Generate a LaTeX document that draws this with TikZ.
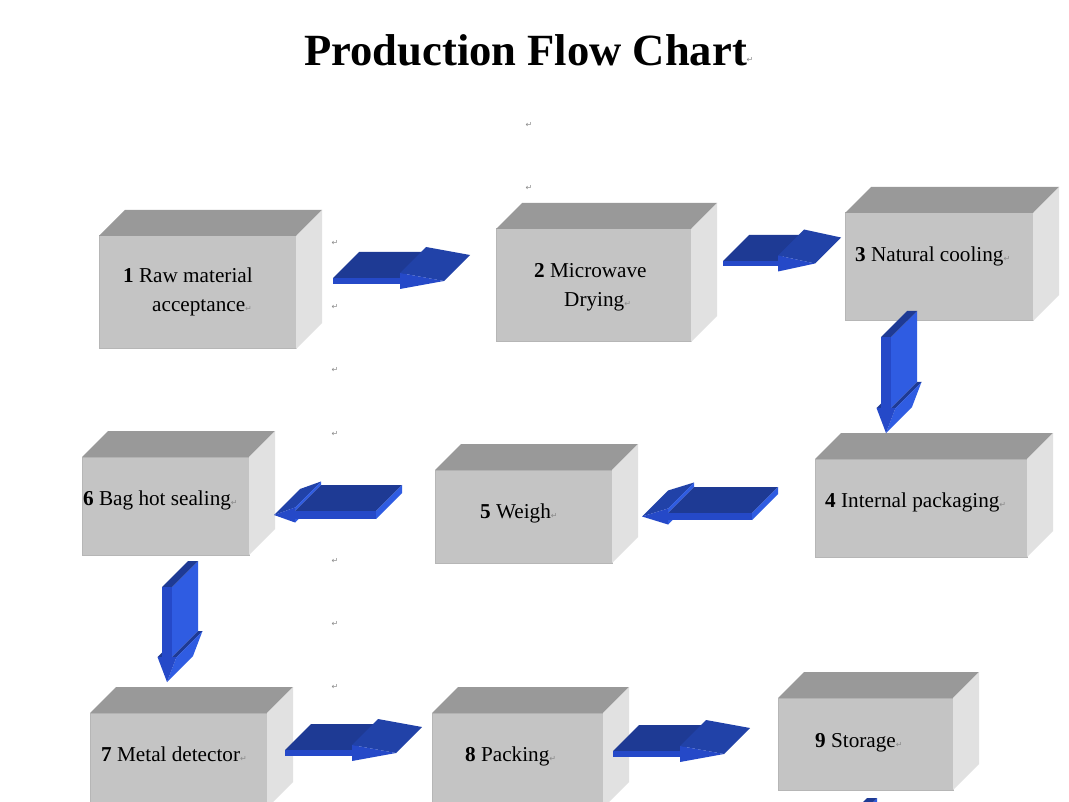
\documentclass[tikz,border=0pt]{standalone}
\usepackage{fontspec}
\setmainfont{Liberation Serif}
\newfontfamily\symfont{DejaVu Sans}
\usetikzlibrary{calc}
\definecolor{frontgray}{HTML}{C4C4C4}
\definecolor{topgray}{HTML}{999999}
\definecolor{sidegray}{HTML}{E1E1E1}
\definecolor{edgegray}{HTML}{B6B6B6}
\definecolor{adark}{HTML}{1E3A94}
\definecolor{ahead}{HTML}{2142A8}
\definecolor{afront}{HTML}{2549C8}
\definecolor{abright}{HTML}{2F5CE2}
\definecolor{markgray}{HTML}{8A8A8A}
\newcommand\retmark{{\symfont\fontsize{8}{8}\selectfont\textcolor{markgray}{↵}}}
% right-pointing 3D arrow: #1 origin, #2 shaft length, #3 head length, #4 thickness, #5 head overhang
\newcommand\rightarr[5]{%
\begin{scope}[shift={#1}]
 \fill[adark] (0,0) -- (26,-26) -- (#2+26,-26) -- (#2,0) -- cycle;
 \fill[afront] (0,0) rectangle (#2,#4);
 \fill[ahead] (#2,-#5) -- (#2+26,-#5-26) -- (#2+#3+26,#4/2-26) -- (#2+#3,#4/2) -- cycle;
 \fill[afront] (#2,-#5) -- (#2+#3,#4/2) -- (#2,#4+#5) -- cycle;
\end{scope}}
% left-pointing 3D arrow: #1 origin (front top right of shaft)
\newcommand\leftarr[5]{%
\begin{scope}[shift={#1}]
 \fill[abright] (-#2,#4) -- (-#2,#4+#5) -- (-#2+26,#4+#5-26) -- (-#2+26,#4-26) -- cycle;
 \fill[ahead] (-#2,-#5) -- (-#2-#3,#4/2) -- (-#2-#3+26,#4/2-26) -- (-#2+26,-#5-26) -- cycle;
 \fill[abright] (-#2,-#5) -- (-#2+26,-#5-26) -- (-#2+26,-26) -- (-#2,0) -- cycle;
 \fill[afront] (-#2,-#5) -- (-#2-#3,#4/2) -- (-#2,#4+#5) -- cycle;
 \fill[adark] (0,0) -- (26,-26) -- (-#2+26,-26) -- (-#2,0) -- cycle;
 \fill[abright] (0,0) -- (26,-26) -- (26,#4-26) -- (0,#4) -- cycle;
 \fill[afront] (0,0) rectangle (-#2,#4);
\end{scope}}
% down-pointing 3D arrow: #1 origin (front top left of shaft), #2 shaft length, #3 width, #4 overhang, #5 head length
\newcommand\downarr[5]{%
\begin{scope}[shift={#1}]
 \fill[adark] (-#4,#2) -- (0,#2) -- (26,#2-26) -- (-#4+26,#2-26) -- cycle;
 \fill[abright] (#3,0) -- (#3+26,-26) -- (#3+26,#2-26) -- (#3,#2) -- cycle;
 \fill[adark] (0,0) -- (#3,0) -- (#3+26,-26) -- (26,-26) -- cycle;
 \fill[adark] (#3,#2) -- (#3+#4,#2) -- (#3+#4+26,#2-26) -- (#3+26,#2-26) -- cycle;
 \fill[abright] (#3+#4,#2) -- (#3+#4+26,#2-26) -- (#3/2+26,#2+#5-26) -- (#3/2,#2+#5) -- cycle;
 \fill[afront] (0,0) rectangle (#3,#2);
 \fill[afront] (-#4,#2) -- (#3+#4,#2) -- (#3/2,#2+#5) -- cycle;
\end{scope}}
\tikzset{
 cube/.style={draw=edgegray, line width=1pt, fill=frontgray, inner sep=0pt, outer sep=0pt, rectangle},
 boxtext/.style={anchor=base west, inner sep=0pt, font=\fontsize{21.2}{29}\selectfont},
 rmark/.style={inner sep=0pt, font=\symfont\fontsize{8}{8}\selectfont, text=markgray},
}
\begin{document}
\begin{tikzpicture}[x=1pt,y=-1pt]
\useasboundingbox (0,0) rectangle (1069,802);
\clip (0,0) rectangle (1069,802);
\fill[white] (0,0) rectangle (1069,802);
% title
\node[anchor=base west, inner sep=0pt, font=\bfseries\fontsize{44.6}{44.6}\selectfont] (title) at (304,66) {Production Flow Chart};
\node[rmark] (m0) at (750,60) {↵};
% boxes
\node[cube, minimum width=197pt, minimum height=113pt] (b1) at (197.5,292.5) {};
\node[cube, minimum width=195pt, minimum height=113pt] (b2) at (593.5,285.5) {};
\node[cube, minimum width=188pt, minimum height=108pt] (b3) at (939,267) {};
\node[cube, minimum width=212pt, minimum height=98pt] (b4) at (921,508) {};
\node[cube, minimum width=177pt, minimum height=93pt] (b5) at (523.5,516.5) {};
\node[cube, minimum width=167pt, minimum height=98pt] (b6) at (165.5,506) {};
\node[cube, minimum width=177pt, minimum height=95pt] (b7) at (178.5,760.5) {};
\node[cube, minimum width=171pt, minimum height=95pt] (b8) at (517.5,760.5) {};
\node[cube, minimum width=175pt, minimum height=92pt] (b9) at (865.5,744) {};
\foreach \b in {b1,b2,b3,b4,b5,b6,b7,b8,b9}{
 \fill[topgray] (\b.north west) -- ++(26,-26) -- ($(\b.north east)+(26,-26)$) -- (\b.north east) -- cycle;
 \fill[sidegray] (\b.north east) -- ++(26,-26) -- ($(\b.south east)+(26,-26)$) -- (\b.south east) -- cycle;
}
% texts
\node[boxtext] (t1) at (123,283) {\textbf{1} Raw material};
\node[boxtext] (t1b) at (152,312) {acceptance\retmark};
\node[boxtext] (t2) at (534,278) {\textbf{2} Microwave};
\node[boxtext] (t2b) at (564,307) {Drying\retmark};
\node[boxtext] (t3) at (855,262) {\textbf{3} Natural cooling\retmark};
\node[boxtext] (t4) at (825,507) {\textbf{4} Internal packaging\retmark};
\node[boxtext] (t5) at (480,518) {\textbf{5} Weigh\retmark};
\node[boxtext] (t6) at (83,505) {\textbf{6} Bag hot sealing\retmark};
\node[boxtext] (t7) at (101,761) {\textbf{7} Metal detector\retmark};
\node[boxtext] (t8) at (465,761) {\textbf{8} Packing\retmark};
\node[boxtext] (t9) at (815,747) {\textbf{9} Storage\retmark};
% paragraph marks
\node[rmark] (m1) at (529,125) {↵};
\node[rmark] (m2) at (529,188) {↵};
\foreach \yy [count=\i from 3] in {243,307,370,434,561,624,687}{
 \node[rmark] (m\i) at (335,\yy) {↵};
}
% arrows
\rightarr{($(b1.north east)+(37,42)$)}{67}{44}{6}{5}
\rightarr{($(b2.north east)+(32,32)$)}{55}{37}{5}{5.5}
\downarr{($(b3.south)+(-58,16)$)}{71}{10}{4.5}{25}
\leftarr{($(b4.north west)+(-63,54)$)}{84}{26}{7}{4.5}
\leftarr{($(b5.north west)+(-59,41)$)}{81}{21}{8}{3.5}
\downarr{($(b6.south)+(-3.5,32)$)}{70}{10}{4.5}{25}
\rightarr{($(b7.north east)+(18,37)$)}{67}{44}{6}{5}
\rightarr{($(b8.north east)+(10,38)$)}{67}{44}{6}{5}
\coordinate (offpage) at ($(b9.south)+(-24.5,34)$);
\downarr{(offpage)}{70}{10}{4.5}{25}
\end{tikzpicture}
\end{document}
